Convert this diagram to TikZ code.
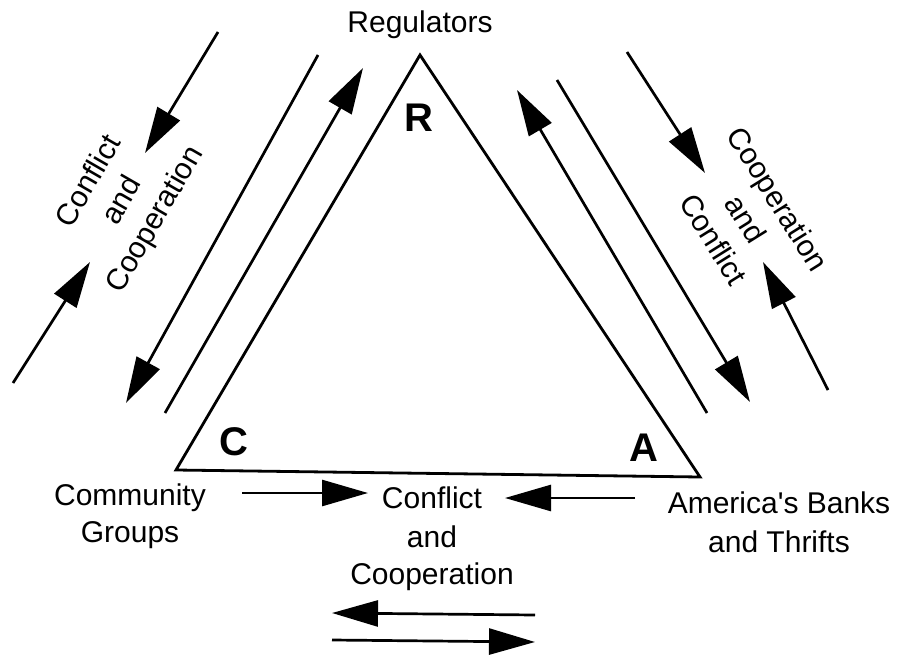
\documentclass[tikz,border=0pt]{standalone}
\usepackage{fontspec}
\setmainfont{Liberation Sans}
\usetikzlibrary{arrows.meta}
\begin{document}
\begin{tikzpicture}[x=1pt,y=-1pt,
  edge/.style={line width=2.8pt,line join=miter},
  arr/.style={line width=2.7pt,-{Triangle[length=46pt,width=26pt]}},
  lbl/.style={font=\fontsize{30}{38}\selectfont, anchor=base, inner sep=0pt},
  vtx/.style={font=\fontsize{40}{40}\selectfont\bfseries, inner sep=0pt},
  rot/.style={font=\fontsize{30}{38}\selectfont, align=center, inner sep=0pt}]
\useasboundingbox (0,0) rectangle (899,658);
% triangle
\coordinate (R) at (420,55);
\coordinate (C) at (176,470);
\coordinate (A) at (700,477);
\draw[edge] (C) -- (R) -- (A) -- cycle;
\node[vtx] (rlab) at (419,118) {R};
\node[vtx] (clab) at (234,442) {C};
\node[vtx] (alab) at (644,448) {A};
% labels
\node[lbl] (reg) at (420,33) {Regulators};
\node[lbl] (cg1) at (130,505) {Community};
\node[lbl] (cg2) at (130,542) {Groups};
\node[lbl] (ab1) at (779,513) {America\textquotesingle s Banks};
\node[lbl] (ab2) at (779,552) {and Thrifts};
\node[lbl] (cc1) at (432,508) {Conflict};
\node[lbl] (cc2) at (432,547) {and};
\node[lbl] (cc3) at (432,584) {Cooperation};
\node[rot, rotate=60] (lt) at (123,201) {Conflict\\and\\Cooperation};
\node[rot, rotate=-58] (rt) at (746,219) {Cooperation\\and\\Conflict};
% left side arrows
\coordinate (l1s) at (13,383);  \coordinate (l1e) at (90,262);
\coordinate (l2s) at (218,32);  \coordinate (l2e) at (145,153);
\coordinate (l3s) at (318,55);  \coordinate (l3e) at (126,403);
\coordinate (l4s) at (165,413); \coordinate (l4e) at (363,68);
\draw[arr] (l1s) -- (l1e);
\draw[arr] (l2s) -- (l2e);
\draw[arr] (l3s) -- (l3e);
\draw[arr] (l4s) -- (l4e);
% right side arrows
\coordinate (r1s) at (707,413); \coordinate (r1e) at (517,90);
\coordinate (r2s) at (557,80);  \coordinate (r2e) at (750,402);
\coordinate (r3s) at (627,52);  \coordinate (r3e) at (705,173);
\coordinate (r4s) at (828,390); \coordinate (r4e) at (763,262);
\draw[arr] (r1s) -- (r1e);
\draw[arr] (r2s) -- (r2e);
\draw[arr] (r3s) -- (r3e);
\draw[arr] (r4s) -- (r4e);
% bottom arrows
\coordinate (b1s) at (242,493); \coordinate (b1e) at (368,493);
\coordinate (b2s) at (635,498); \coordinate (b2e) at (505,498);
\coordinate (b3s) at (535,615); \coordinate (b3e) at (332,613);
\coordinate (b4s) at (332,640); \coordinate (b4e) at (535,642);
\draw[arr] (b1s) -- (b1e);
\draw[arr] (b2s) -- (b2e);
\draw[arr] (b3s) -- (b3e);
\draw[arr] (b4s) -- (b4e);
\end{tikzpicture}
\end{document}
